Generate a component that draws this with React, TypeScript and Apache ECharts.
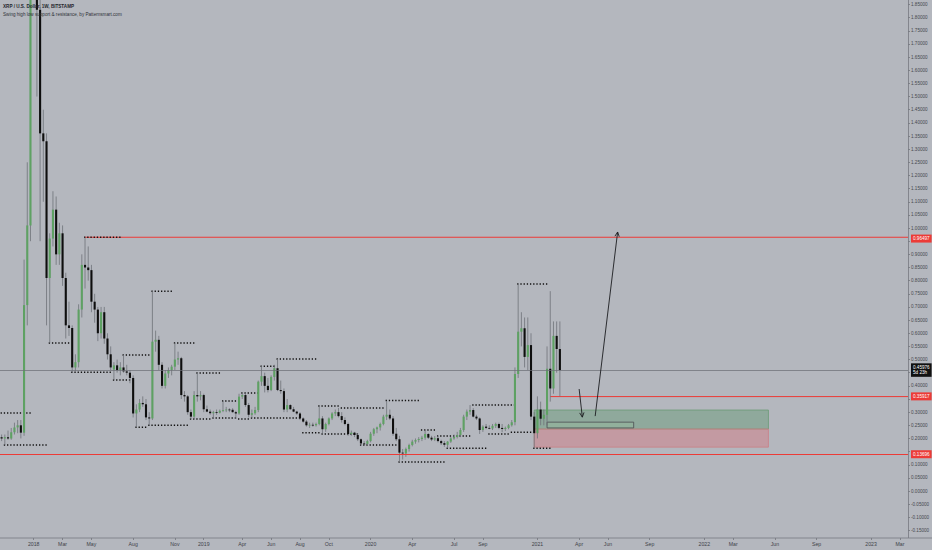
import { useEffect, useRef } from 'react'
import * as echarts from 'echarts'

const firstWeek = '2017-10-23'
const weekCount = 283

// first weekly bar of these months carries a time label
const xLabelMonths = [
  '2018-01', '2018-03', '2018-05', '2018-08', '2018-11',
  '2019-01', '2019-04', '2019-06', '2019-08', '2019-10',
  '2020-01', '2020-04', '2020-07', '2020-09',
  '2021-01', '2021-04', '2021-06', '2021-09',
  '2022-01', '2022-03', '2022-06', '2022-09',
  '2023-01', '2023-03',
]
const monthNames = ['Jan', 'Feb', 'Mar', 'Apr', 'May', 'Jun', 'Jul', 'Aug', 'Sep', 'Oct', 'Nov', 'Dec']

const yMin = -0.15
const yMax = 1.85
const yStep = 0.05

// XRP / USD weekly bars: [open, high, low, close]
const ohlc: number[][] = [
  [0.205, 0.215, 0.19, 0.2], [0.2, 0.215, 0.175, 0.205], [0.205, 0.23, 0.195, 0.2], [0.2, 0.24, 0.195, 0.224],
  [0.224, 0.26, 0.215, 0.242], [0.242, 0.27, 0.22, 0.25], [0.25, 0.27, 0.2, 0.222], [0.222, 0.88, 0.21, 0.707],
  [0.707, 1.25, 0.63, 1.01], [1.01, 2.45, 0.95, 2.05], [2.05, 3.3, 1.95, 2.45], [2.45, 2.55, 1.5, 1.83],
  [1.83, 1.95, 0.95, 1.36], [1.36, 1.45, 1.1, 1.33], [1.33, 1.36, 0.63, 0.81], [0.81, 0.98, 0.563, 0.96],
  [0.96, 1.14, 0.93, 1.07], [1.07, 1.12, 0.86, 0.9], [0.9, 1.02, 0.86, 0.98], [0.98, 1.01, 0.78, 0.81],
  [0.81, 0.83, 0.58, 0.63], [0.63, 0.72, 0.59, 0.62], [0.62, 0.63, 0.452, 0.47], [0.47, 0.52, 0.455, 0.49],
  [0.49, 0.71, 0.47, 0.69], [0.69, 0.9, 0.66, 0.86], [0.86, 0.965, 0.77, 0.85], [0.85, 0.93, 0.8, 0.84],
  [0.84, 0.86, 0.68, 0.72], [0.72, 0.75, 0.64, 0.69], [0.69, 0.7, 0.57, 0.6], [0.6, 0.7, 0.58, 0.68],
  [0.68, 0.7, 0.56, 0.58], [0.58, 0.6, 0.5, 0.52], [0.52, 0.55, 0.46, 0.47], [0.462, 0.49, 0.422, 0.478],
  [0.478, 0.5, 0.45, 0.46], [0.46, 0.49, 0.44, 0.47], [0.47, 0.517, 0.45, 0.455], [0.455, 0.48, 0.44, 0.45],
  [0.45, 0.46, 0.41, 0.43], [0.43, 0.44, 0.28, 0.295], [0.295, 0.33, 0.243, 0.31], [0.31, 0.35, 0.3, 0.335],
  [0.335, 0.36, 0.32, 0.33], [0.33, 0.35, 0.27, 0.28], [0.28, 0.3, 0.25, 0.276], [0.276, 0.76, 0.27, 0.568],
  [0.568, 0.61, 0.53, 0.575], [0.575, 0.59, 0.46, 0.48], [0.48, 0.49, 0.39, 0.4], [0.4, 0.46, 0.39, 0.447],
  [0.447, 0.47, 0.43, 0.46], [0.46, 0.48, 0.44, 0.473], [0.473, 0.563, 0.46, 0.5], [0.5, 0.53, 0.48, 0.505],
  [0.505, 0.51, 0.35, 0.365], [0.365, 0.38, 0.34, 0.36], [0.36, 0.365, 0.29, 0.3], [0.3, 0.31, 0.274, 0.283],
  [0.283, 0.38, 0.274, 0.365], [0.365, 0.449, 0.34, 0.36], [0.36, 0.38, 0.345, 0.365], [0.365, 0.37, 0.3, 0.311],
  [0.311, 0.325, 0.3, 0.302], [0.302, 0.31, 0.29, 0.296], [0.296, 0.305, 0.278, 0.3], [0.3, 0.31, 0.29, 0.298],
  [0.298, 0.31, 0.295, 0.305], [0.305, 0.342, 0.3, 0.308], [0.308, 0.32, 0.3, 0.31], [0.31, 0.315, 0.3, 0.309],
  [0.309, 0.315, 0.298, 0.3], [0.3, 0.305, 0.274, 0.295], [0.295, 0.37, 0.29, 0.359], [0.359, 0.373, 0.35, 0.365],
  [0.365, 0.37, 0.32, 0.327], [0.327, 0.335, 0.28, 0.29], [0.29, 0.31, 0.278, 0.296], [0.296, 0.32, 0.29, 0.308],
  [0.308, 0.42, 0.3, 0.416], [0.416, 0.475, 0.4, 0.437], [0.437, 0.45, 0.375, 0.4], [0.4, 0.43, 0.375, 0.384],
  [0.384, 0.44, 0.38, 0.434], [0.434, 0.48, 0.42, 0.467], [0.467, 0.502, 0.38, 0.384], [0.384, 0.42, 0.37, 0.38],
  [0.38, 0.39, 0.3, 0.31], [0.31, 0.35, 0.3, 0.327], [0.327, 0.33, 0.31, 0.311], [0.311, 0.32, 0.3, 0.302],
  [0.302, 0.305, 0.29, 0.295], [0.295, 0.3, 0.27, 0.276], [0.276, 0.28, 0.26, 0.264], [0.264, 0.27, 0.245, 0.25],
  [0.25, 0.26, 0.24, 0.252], [0.252, 0.26, 0.245, 0.25], [0.25, 0.26, 0.245, 0.255], [0.255, 0.323, 0.25, 0.276],
  [0.276, 0.285, 0.22, 0.235], [0.235, 0.26, 0.225, 0.255], [0.255, 0.28, 0.25, 0.276], [0.276, 0.3, 0.27, 0.295],
  [0.295, 0.31, 0.285, 0.3], [0.3, 0.316, 0.28, 0.285], [0.285, 0.3, 0.26, 0.27], [0.27, 0.28, 0.25, 0.255],
  [0.255, 0.26, 0.21, 0.217], [0.217, 0.23, 0.21, 0.222], [0.222, 0.225, 0.205, 0.213], [0.213, 0.22, 0.19, 0.197],
  [0.197, 0.2, 0.175, 0.181], [0.181, 0.19, 0.175, 0.179], [0.179, 0.195, 0.175, 0.19], [0.19, 0.225, 0.185, 0.218],
  [0.218, 0.24, 0.21, 0.235], [0.235, 0.245, 0.22, 0.242], [0.242, 0.26, 0.23, 0.255], [0.255, 0.29, 0.25, 0.283],
  [0.283, 0.342, 0.27, 0.29], [0.29, 0.31, 0.27, 0.276], [0.276, 0.285, 0.21, 0.218], [0.218, 0.24, 0.19, 0.197],
  [0.197, 0.21, 0.11, 0.146], [0.146, 0.16, 0.12, 0.143], [0.143, 0.165, 0.13, 0.16], [0.16, 0.18, 0.15, 0.175],
  [0.175, 0.195, 0.17, 0.188], [0.188, 0.2, 0.18, 0.194], [0.194, 0.205, 0.185, 0.198], [0.198, 0.21, 0.19, 0.203],
  [0.203, 0.232, 0.195, 0.217], [0.217, 0.22, 0.198, 0.203], [0.203, 0.21, 0.19, 0.196], [0.196, 0.209, 0.19, 0.201],
  [0.201, 0.209, 0.185, 0.19], [0.19, 0.195, 0.175, 0.182], [0.182, 0.19, 0.168, 0.176], [0.176, 0.19, 0.163, 0.188],
  [0.188, 0.205, 0.183, 0.2], [0.2, 0.215, 0.195, 0.206], [0.206, 0.225, 0.2, 0.213], [0.213, 0.24, 0.205, 0.232],
  [0.232, 0.29, 0.225, 0.283], [0.283, 0.31, 0.27, 0.302], [0.302, 0.327, 0.29, 0.308], [0.308, 0.315, 0.28, 0.283],
  [0.283, 0.29, 0.27, 0.276], [0.276, 0.28, 0.217, 0.232], [0.232, 0.25, 0.225, 0.245], [0.245, 0.255, 0.235, 0.24],
  [0.24, 0.25, 0.235, 0.238], [0.238, 0.255, 0.232, 0.248], [0.248, 0.26, 0.24, 0.255], [0.255, 0.26, 0.235, 0.24],
  [0.24, 0.255, 0.224, 0.236], [0.236, 0.245, 0.228, 0.24], [0.24, 0.255, 0.235, 0.25], [0.25, 0.27, 0.245, 0.262],
  [0.262, 0.47, 0.25, 0.445], [0.445, 0.787, 0.43, 0.606], [0.606, 0.68, 0.55, 0.619], [0.619, 0.66, 0.47, 0.51],
  [0.51, 0.66, 0.46, 0.555], [0.555, 0.6, 0.27, 0.283], [0.283, 0.3, 0.163, 0.22], [0.22, 0.36, 0.2, 0.31],
  [0.31, 0.34, 0.25, 0.275], [0.275, 0.31, 0.25, 0.29], [0.29, 0.55, 0.25, 0.465], [0.465, 0.76, 0.34, 0.39],
  [0.39, 0.645, 0.37, 0.59], [0.59, 0.645, 0.45, 0.54], [0.54, 0.645, 0.36, 0.45976],
]

// swing high / low dotted levels: [fromBar, toBar, price]
const swingLevels: number[][] = [
  [0, 9, 0.297], [1, 14, 0.175], [15, 21, 0.563], [22, 34, 0.452], [26, 37, 0.965], [35, 40, 0.422],
  [38, 46, 0.517], [42, 45, 0.243], [46, 58, 0.25], [47, 53, 0.76], [54, 60, 0.563], [59, 65, 0.274],
  [61, 68, 0.449], [66, 73, 0.278], [69, 74, 0.342], [74, 77, 0.274], [75, 80, 0.373], [78, 93, 0.278],
  [81, 85, 0.475], [86, 98, 0.502], [94, 99, 0.222], [99, 105, 0.323], [100, 111, 0.217], [106, 119, 0.316],
  [112, 123, 0.175], [120, 130, 0.344], [124, 138, 0.11], [131, 135, 0.232], [136, 146, 0.209],
  [139, 151, 0.163], [147, 160, 0.327], [152, 158, 0.217], [159, 165, 0.224], [161, 170, 0.787],
  [166, 171, 0.163],
]

const resistanceTop = 0.96497
const resistanceFrom = 26
const supportMid = 0.35917
const supportMidFrom = 171
const supportLow = 0.13696
const lastPrice = 0.45976
const barCountdown = '5d 23h'

// horizontal rays drawn from a bar to the right edge: [fromBar, price]
const rays: number[][] = [
  [resistanceFrom, resistanceTop],
  [supportMidFrom, supportMid],
]

// long position tool: [fromBar, toBar, upper, lower]
const profitZone = [166, 239, 0.308, 0.236]
const stopZone = [166, 239, 0.236, 0.167]
const entryBox = [170, 197, 0.262, 0.24]

// drawn arrows: [fromBar, fromPrice, toBar, toPrice]
const arrows: number[][] = [
  [180, 0.388, 181, 0.281],
  [185, 0.285, 192, 0.985],
]

const FONT = 'Liberation Sans, Arial, sans-serif'
const BG = '#b4b7be'
const UP = '#5ea163'
const DOWN = '#0e0e0e'
const WICK = '#6f7278'
const RED = '#ec3b37'

const t0 = Date.parse(firstWeek + 'T00:00:00Z')
const weeks: string[] = []
for (let i = 0; i < weekCount; i++) {
  weeks.push(new Date(t0 + i * 7 * 86400000).toISOString().slice(0, 10))
}

const isLabelWeek = (d: string) => Number(d.slice(8, 10)) <= 7 && xLabelMonths.includes(d.slice(0, 7))

// axis prices hidden behind the price tags, as on the original
const taggedPrices = [resistanceTop, supportMid, supportLow, lastPrice]

const tagLabel = (text: string, bg: string) => ({
  show: true,
  position: 'end',
  distance: 3,
  formatter: text,
  color: '#fff',
  backgroundColor: bg,
  padding: [1.5, 2, 1, 2],
  fontSize: 4.6,
  lineHeight: 5.5,
  fontFamily: FONT,
})

const clearLine = { color: 'rgba(0,0,0,0)', width: 0.1, type: 'solid' }

export default function App() {
  const containerRef = useRef<HTMLDivElement>(null)

  useEffect(() => {
    document.body.style.margin = '0'
    if (!containerRef.current) return

    const chart = echarts.init(containerRef.current, undefined, { renderer: 'svg' })

    const option = {
      animation: false,
      backgroundColor: BG,
      textStyle: { fontFamily: FONT },
      grid: { left: 0, right: 24, top: 4.5, bottom: 19.5, containLabel: false, outerBoundsMode: 'none' },
      xAxis: {
        type: 'category',
        data: weeks,
        boundaryGap: true,
        offset: 7.5,
        axisLine: { show: false, onZero: false },
        axisTick: {
          show: true,
          alignWithLabel: true,
          interval: (_: number, v: string) => isLabelWeek(v),
          length: 2,
          lineStyle: { color: '#5d6066', width: 0.6 },
        },
        axisLabel: {
          interval: (_: number, v: string) => isLabelWeek(v),
          formatter: (v: string) => (v.slice(5, 7) === '01' ? v.slice(0, 4) : monthNames[Number(v.slice(5, 7)) - 1]),
          fontSize: 5.2,
          color: '#3f4249',
          margin: 3,
        },
        splitLine: { show: false },
      },
      yAxis: {
        type: 'value',
        position: 'right',
        min: yMin,
        max: yMax,
        interval: yStep,
        axisLine: { show: false, onZero: false },
        axisTick: { show: true, length: 2, lineStyle: { color: '#5d6066', width: 0.6 } },
        axisLabel: {
          fontSize: 4.6,
          color: '#45484f',
          margin: 3,
          showMinLabel: true,
          showMaxLabel: true,
          formatter: (v: number) => {
            if (taggedPrices.some((p) => Math.abs(p - v) < 0.02)) return ''
            return Math.abs(v) < 1e-9 ? '0.00000' : v.toFixed(5)
          },
        },
        splitLine: { show: false },
      },
      graphic: [
        { type: 'line', shape: { x1: 908.5, y1: 0, x2: 908.5, y2: 538 }, style: { stroke: '#767980', lineWidth: 0.8 }, z: 50 },
        { type: 'line', shape: { x1: 0, y1: 538, x2: 932, y2: 538 }, style: { stroke: '#767980', lineWidth: 0.8 }, z: 50 },
        {
          type: 'text', left: 3, top: 4, z: 60,
          style: { text: 'XRP / U.S. Dollar, 1W, BITSTAMP', fill: '#23262c', fontSize: 4.6, fontWeight: 'bold', fontFamily: FONT },
        },
        {
          type: 'text', left: 3, top: 11.5, z: 60,
          style: { text: 'Swing high low support & resistance, by Patternsmart.com', fill: '#2f3238', fontSize: 4.6, fontFamily: FONT },
        },
      ],
      series: [
        {
          name: 'rays',
          type: 'custom',
          z: 2,
          data: rays,
          encode: { x: 0, y: 1 },
          renderItem: (params: any, api: any) => {
            const p = api.coord([api.value(0), api.value(1)])
            const right = params.coordSys.x + params.coordSys.width
            return {
              type: 'line',
              shape: { x1: p[0], y1: p[1], x2: right, y2: p[1] },
              style: { stroke: RED, lineWidth: 1 },
            }
          },
        },
        {
          name: 'levels',
          type: 'custom',
          z: 3,
          data: swingLevels,
          encode: { x: [0, 1], y: 2 },
          renderItem: (_: any, api: any) => {
            const p1 = api.coord([api.value(0), api.value(2)])
            const p2 = api.coord([api.value(1), api.value(2)])
            return {
              type: 'line',
              shape: { x1: p1[0] - 1, y1: p1[1], x2: p2[0] + 1, y2: p2[1] },
              style: { stroke: '#111', lineWidth: 1.5, lineDash: [1.3, 1.9] },
            }
          },
          markArea: {
            silent: true,
            data: [
              [
                { coord: [profitZone[0], profitZone[2]], itemStyle: { color: 'rgba(60,140,80,0.3)', borderColor: '#6b9a75', borderWidth: 0.8 } },
                { coord: [profitZone[1], profitZone[3]] },
              ],
              [
                { coord: [stopZone[0], stopZone[2]], itemStyle: { color: 'rgba(235,80,90,0.28)', borderColor: '#c98088', borderWidth: 0.8 } },
                { coord: [stopZone[1], stopZone[3]] },
              ],
              [
                { coord: [entryBox[0], entryBox[2]], itemStyle: { color: 'rgba(150,185,158,0.45)', borderColor: '#4b4d52', borderWidth: 0.8 } },
                { coord: [entryBox[1], entryBox[3]] },
              ],
            ],
          },
          markLine: {
            silent: true,
            symbol: 'none',
            data: [
              { yAxis: resistanceTop, lineStyle: clearLine, label: tagLabel(resistanceTop.toFixed(5), RED) },
              { yAxis: supportMid, lineStyle: clearLine, label: tagLabel(supportMid.toFixed(5), RED) },
              {
                yAxis: supportLow,
                lineStyle: { color: RED, width: 1, type: 'solid' },
                label: tagLabel(supportLow.toFixed(5), RED),
              },
              {
                yAxis: lastPrice,
                lineStyle: { color: '#6a6d74', width: 0.7, type: 'solid' },
                label: tagLabel(lastPrice.toFixed(5) + '\n' + barCountdown, '#111'),
              },
            ],
          },
        },
        {
          name: 'XRPUSD',
          type: 'custom',
          z: 4,
          clip: false,
          data: ohlc.map((b, i) => [i, b[0], b[1], b[2], b[3]]),
          encode: { x: 0, y: [1, 2, 3, 4] },
          renderItem: (_: any, api: any) => {
            const i = api.value(0)
            const o = api.value(1)
            const h = api.value(2)
            const l = api.value(3)
            const c = api.value(4)
            const [x, yO] = api.coord([i, o])
            const yC = api.coord([i, c])[1]
            const yH = api.coord([i, h])[1]
            const yL = api.coord([i, l])[1]
            const bw = 2.1
            const top = Math.min(yO, yC)
            const ht = Math.max(Math.abs(yO - yC), 0.8)
            return {
              type: 'group',
              children: [
                { type: 'line', shape: { x1: x, y1: yH, x2: x, y2: yL }, style: { stroke: WICK, lineWidth: 0.8 } },
                { type: 'rect', shape: { x: x - bw / 2, y: top, width: bw, height: ht }, style: { fill: c >= o ? UP : DOWN } },
              ],
            }
          },
        },
        {
          name: 'arrows',
          type: 'custom',
          z: 5,
          data: arrows,
          encode: { x: [0, 2], y: [1, 3] },
          renderItem: (_: any, api: any) => {
            const p1 = api.coord([api.value(0), api.value(1)])
            const p2 = api.coord([api.value(2), api.value(3)])
            const ang = Math.atan2(p2[1] - p1[1], p2[0] - p1[0])
            const L = 5
            const a = 0.45
            const h1 = [p2[0] - L * Math.cos(ang - a), p2[1] - L * Math.sin(ang - a)]
            const h2 = [p2[0] - L * Math.cos(ang + a), p2[1] - L * Math.sin(ang + a)]
            return {
              type: 'group',
              children: [
                { type: 'line', shape: { x1: p1[0], y1: p1[1], x2: p2[0], y2: p2[1] }, style: { stroke: '#1c1d20', lineWidth: 0.9 } },
                { type: 'polyline', shape: { points: [h1, p2, h2] }, style: { stroke: '#1c1d20', lineWidth: 0.9, fill: 'none' } },
              ],
            }
          },
        },
      ],
    }

    chart.setOption(option as any)

    return () => {
      chart.dispose()
    }
  }, [])

  return <div ref={containerRef} style={{ width: '932px', height: '550px', background: BG }} />
}
